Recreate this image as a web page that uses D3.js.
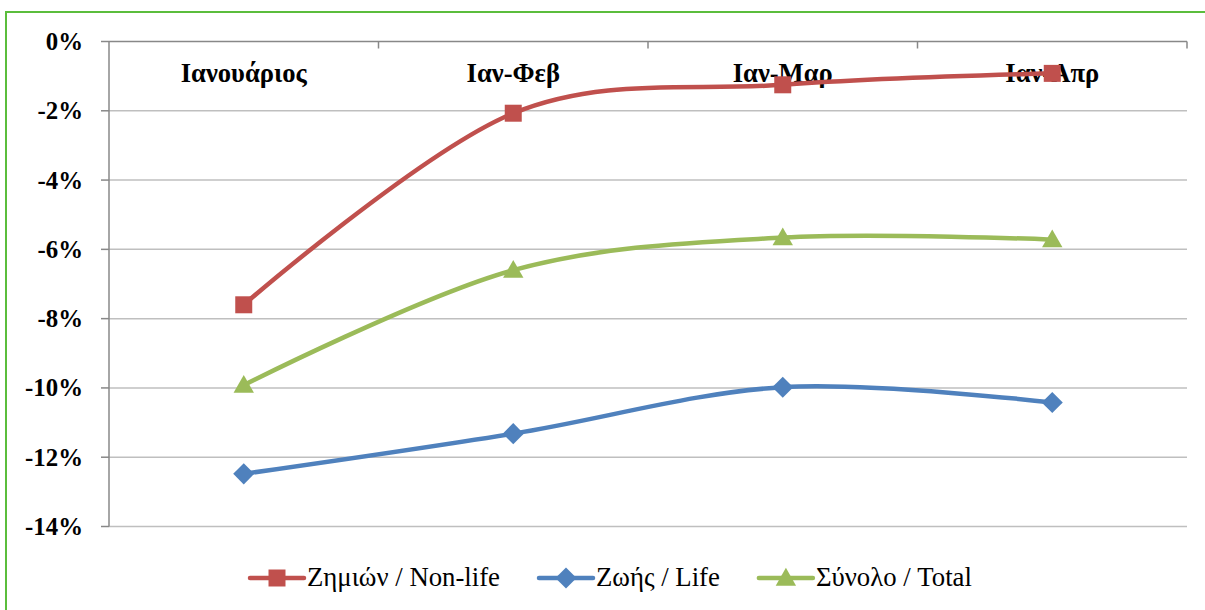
<!DOCTYPE html>
<html>
<head>
<meta charset="utf-8">
<script src="https://cdn.jsdelivr.net/npm/d3@7"></script>
</head>
<body style="margin:0">
<svg id="chart" width="1205" height="610"></svg>
<script>
const categories = ["Ιανουάριος", "Ιαν-Φεβ", "Ιαν-Μαρ", "Ιαν-Απρ"];
const nonLife = [-7.6, -2.07, -1.25, -0.92];
const life = [-12.48, -11.32, -9.98, -10.42];
const total = [-9.92, -6.6, -5.66, -5.72];
const yTicks = [0, -2, -4, -6, -8, -10, -12, -14];

const series = [
    { name: "Ζημιών / Non-life", values: nonLife, color: "#C0504D", marker: "square" },
    { name: "Ζωής / Life", values: life, color: "#4F81BD", marker: "diamond" },
    { name: "Σύνολο / Total", values: total, color: "#9BBB59", marker: "triangle" }
];

const fontName = "Liberation Serif";
const plot = { left: 109, right: 1187, top: 41.5, bottom: 526.5 };
const svg = d3.select("#chart");

// pick a font size so that a sample string gets the width seen in the picture
function fitSize(sample, width, weight) {
    const t = svg.append("text")
        .attr("font-family", fontName)
        .attr("font-size", 100)
        .attr("font-weight", weight)
        .text(sample);
    const w = t.node().getComputedTextLength();
    t.remove();
    return w > 0 ? 100 * width / w : 22;
}
const ySize = fitSize("-14%", 58, "bold");
const xSize = fitSize("Ιανουάριος", 126, "bold");
const legendSize = fitSize("Ζημιών / Non-life", 193, "normal");

// outer frame
svg.append("rect")
    .attr("x", 6).attr("y", 12)
    .attr("width", 1210).attr("height", 610)
    .attr("fill", "none")
    .attr("stroke", "#5BBD3C")
    .attr("stroke-width", 2);

const x = d3.scaleBand().domain(categories).range([plot.left, plot.right]);
const y = d3.scaleLinear().domain([-14, 0]).range([plot.bottom, plot.top]);
const cx = c => x(c) + x.bandwidth() / 2;

// gridlines
svg.selectAll("line.grid")
    .data(yTicks.filter(t => t !== 0))
    .enter().append("line")
    .attr("class", "grid")
    .attr("x1", plot.left).attr("x2", plot.right)
    .attr("y1", d => y(d)).attr("y2", d => y(d))
    .attr("stroke", "#BFBFBF")
    .attr("stroke-width", 1.5);

// y axis
svg.append("line")
    .attr("x1", plot.left).attr("x2", plot.left)
    .attr("y1", y(0)).attr("y2", y(-14))
    .attr("stroke", "#888").attr("stroke-width", 1.5);
svg.selectAll("line.ytick")
    .data(yTicks)
    .enter().append("line")
    .attr("class", "ytick")
    .attr("x1", plot.left - 8).attr("x2", plot.left)
    .attr("y1", d => y(d)).attr("y2", d => y(d))
    .attr("stroke", "#888").attr("stroke-width", 1.5);
svg.selectAll("text.ylabel")
    .data(yTicks)
    .enter().append("text")
    .attr("class", "ylabel")
    .attr("x", 83)
    .attr("y", d => y(d) + 8.5)
    .attr("text-anchor", "end")
    .attr("font-family", fontName)
    .attr("font-size", ySize)
    .attr("font-weight", "bold")
    .text(d => d + "%");

// category axis along the 0% line, ticks pointing down
svg.append("line")
    .attr("x1", plot.left).attr("x2", plot.right)
    .attr("y1", y(0)).attr("y2", y(0))
    .attr("stroke", "#888").attr("stroke-width", 1.5);
const bounds = categories.map(c => x(c)).concat([plot.right]);
svg.selectAll("line.xtick")
    .data(bounds.slice(1))
    .enter().append("line")
    .attr("class", "xtick")
    .attr("x1", d => d).attr("x2", d => d)
    .attr("y1", y(0)).attr("y2", y(0) + 7)
    .attr("stroke", "#888").attr("stroke-width", 1.5);
svg.selectAll("text.xlabel")
    .data(categories)
    .enter().append("text")
    .attr("class", "xlabel")
    .attr("x", d => cx(d))
    .attr("y", y(0) + 40.5)
    .attr("text-anchor", "middle")
    .attr("font-family", fontName)
    .attr("font-size", xSize)
    .attr("font-weight", "bold")
    .text(d => d);

// lines
const line = d3.line()
    .x((d, i) => cx(categories[i]))
    .y(d => y(d))
    .curve(d3.curveCardinal.tension(0));

function markerPath(type, s) {
    if (type === "square") {
        return `M${-s / 2},${-s / 2}h${s}v${s}h${-s}Z`;
    } else if (type === "diamond") {
        const r = s * 0.62;
        return `M0,${-r}L${r},0L0,${r}L${-r},0Z`;
    }
    return `M0,${-s * 0.6}L${s * 0.6},${s * 0.45}L${-s * 0.6},${s * 0.45}Z`;
}

series.forEach(s => {
    svg.append("path")
        .attr("d", line(s.values))
        .attr("fill", "none")
        .attr("stroke", s.color)
        .attr("stroke-width", 4.5)
        .attr("stroke-linecap", "round");
    svg.selectAll(null)
        .data(s.values)
        .enter().append("path")
        .attr("transform", (v, i) => `translate(${cx(categories[i])},${y(v)})`)
        .attr("d", markerPath(s.marker, 17))
        .attr("fill", s.color);
});

// legend: items laid out one after another from measured text widths
let lx = 250;
series.forEach(s => {
    svg.append("line")
        .attr("x1", lx).attr("x2", lx + 54)
        .attr("y1", 578).attr("y2", 578)
        .attr("stroke", s.color).attr("stroke-width", 4.5).attr("stroke-linecap", "round");
    svg.append("path")
        .attr("transform", `translate(${lx + 27},578)`)
        .attr("d", markerPath(s.marker, 17))
        .attr("fill", s.color);
    const t = svg.append("text")
        .attr("x", lx + 57).attr("y", 586)
        .attr("font-family", fontName)
        .attr("font-size", legendSize)
        .text(s.name);
    lx += 57 + t.node().getComputedTextLength() + 39;
});
</script>
</body>
</html>
